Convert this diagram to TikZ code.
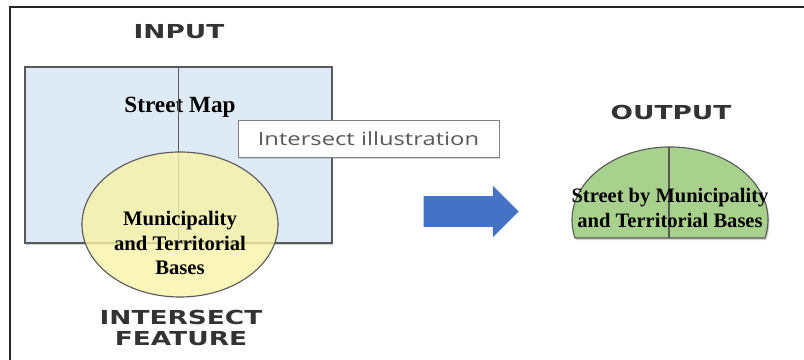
\documentclass[tikz,border=0pt]{standalone}
\usepackage{fontspec}
\setmainfont{Liberation Serif}
\newfontfamily\headfont{DejaVu Sans}
\newfontfamily\notefont{Open Sans}
\usetikzlibrary{shapes.geometric, shapes.arrows, shadows, positioning}
\definecolor{mapblue}{HTML}{DEEBF7}
\definecolor{featyellow}{HTML}{F9F2A6}
\definecolor{outgreen}{HTML}{A9D18E}
\definecolor{arrowblue}{HTML}{4472C4}
\definecolor{headgray}{HTML}{333333}
\newcommand{\stretchx}[2][1.37]{\scalebox{#1}[1]{#2}}

\begin{document}
\begin{tikzpicture}[x=0.025cm, y=0.025cm,
    heading/.style={font=\headfont\bfseries\fontsize{13.7}{15}\selectfont,
                    text=headgray, inner sep=0pt},
    label/.style={font=\bfseries\fontsize{14.7}{17.2}\selectfont,
                  align=center, inner sep=0pt},
    edge/.style={draw=black!65, line width=0.8pt},
    shade/.style={drop shadow={shadow xshift=1pt, shadow yshift=-1.5pt, opacity=0.35}}
]
\useasboundingbox (0,0) rectangle (804,360);
\draw[line width=1.5pt, black!85] (804,353) -- (10,353) -- (10,0);

\node[heading] (input) at (179,328) {\stretchx{INPUT}};
\node[edge, fill=mapblue, shade, minimum width=7.675cm, minimum height=4.4cm] (map) at (178.5,205) {};
\node[label, font=\bfseries\fontsize{16.5}{19}\selectfont] (street) at (180,253) {Street Map};
\draw[edge] (map.north) -- (map.south);

\node[ellipse, edge, fill=featyellow, fill opacity=0.8,
      minimum width=4.9cm, minimum height=3.625cm] (feature) at (180,135.5) {};
\node[label] (featname) at (180,117) {Municipality\\and Territorial\\Bases};
\node[heading] (featlabel) at (181,29.5)
  {\stretchx{\begin{tabular}{@{}c@{}}INTERSECT\\FEATURE\end{tabular}}};

\node[draw=black!50, fill=white, shade, minimum width=6.525cm, minimum height=0.925cm,
      font=\notefont\fontsize{12.9}{15}\selectfont, text=black!65] (note) at (368.5,221.5)
  {\stretchx[1.31]{Intersect illustration}};

\node[single arrow, fill=arrowblue, minimum height=2.375cm, inner xsep=0pt, inner ysep=0.375cm,
      single arrow head extend=0.2625cm] (arrow) at (463.5,148.5) {};

\node[heading] (output) at (671,248) {\stretchx{OUTPUT}};
\filldraw[edge, fill=outgreen, shade] (764.97,122)
  arc[start angle=-14.28, end angle=194.28, x radius=2.45cm, y radius=1.825cm] -- cycle;
\coordinate (outtop) at (669,213);
\coordinate (outbottom) at (669,122);
\draw[edge] (outtop) -- (outbottom);
\node[label, font=\bfseries\fontsize{14.6}{17.8}\selectfont] (outname) at (670,152.5)
  {Street by Municipality\\and Territorial Bases};
\end{tikzpicture}
\end{document}
